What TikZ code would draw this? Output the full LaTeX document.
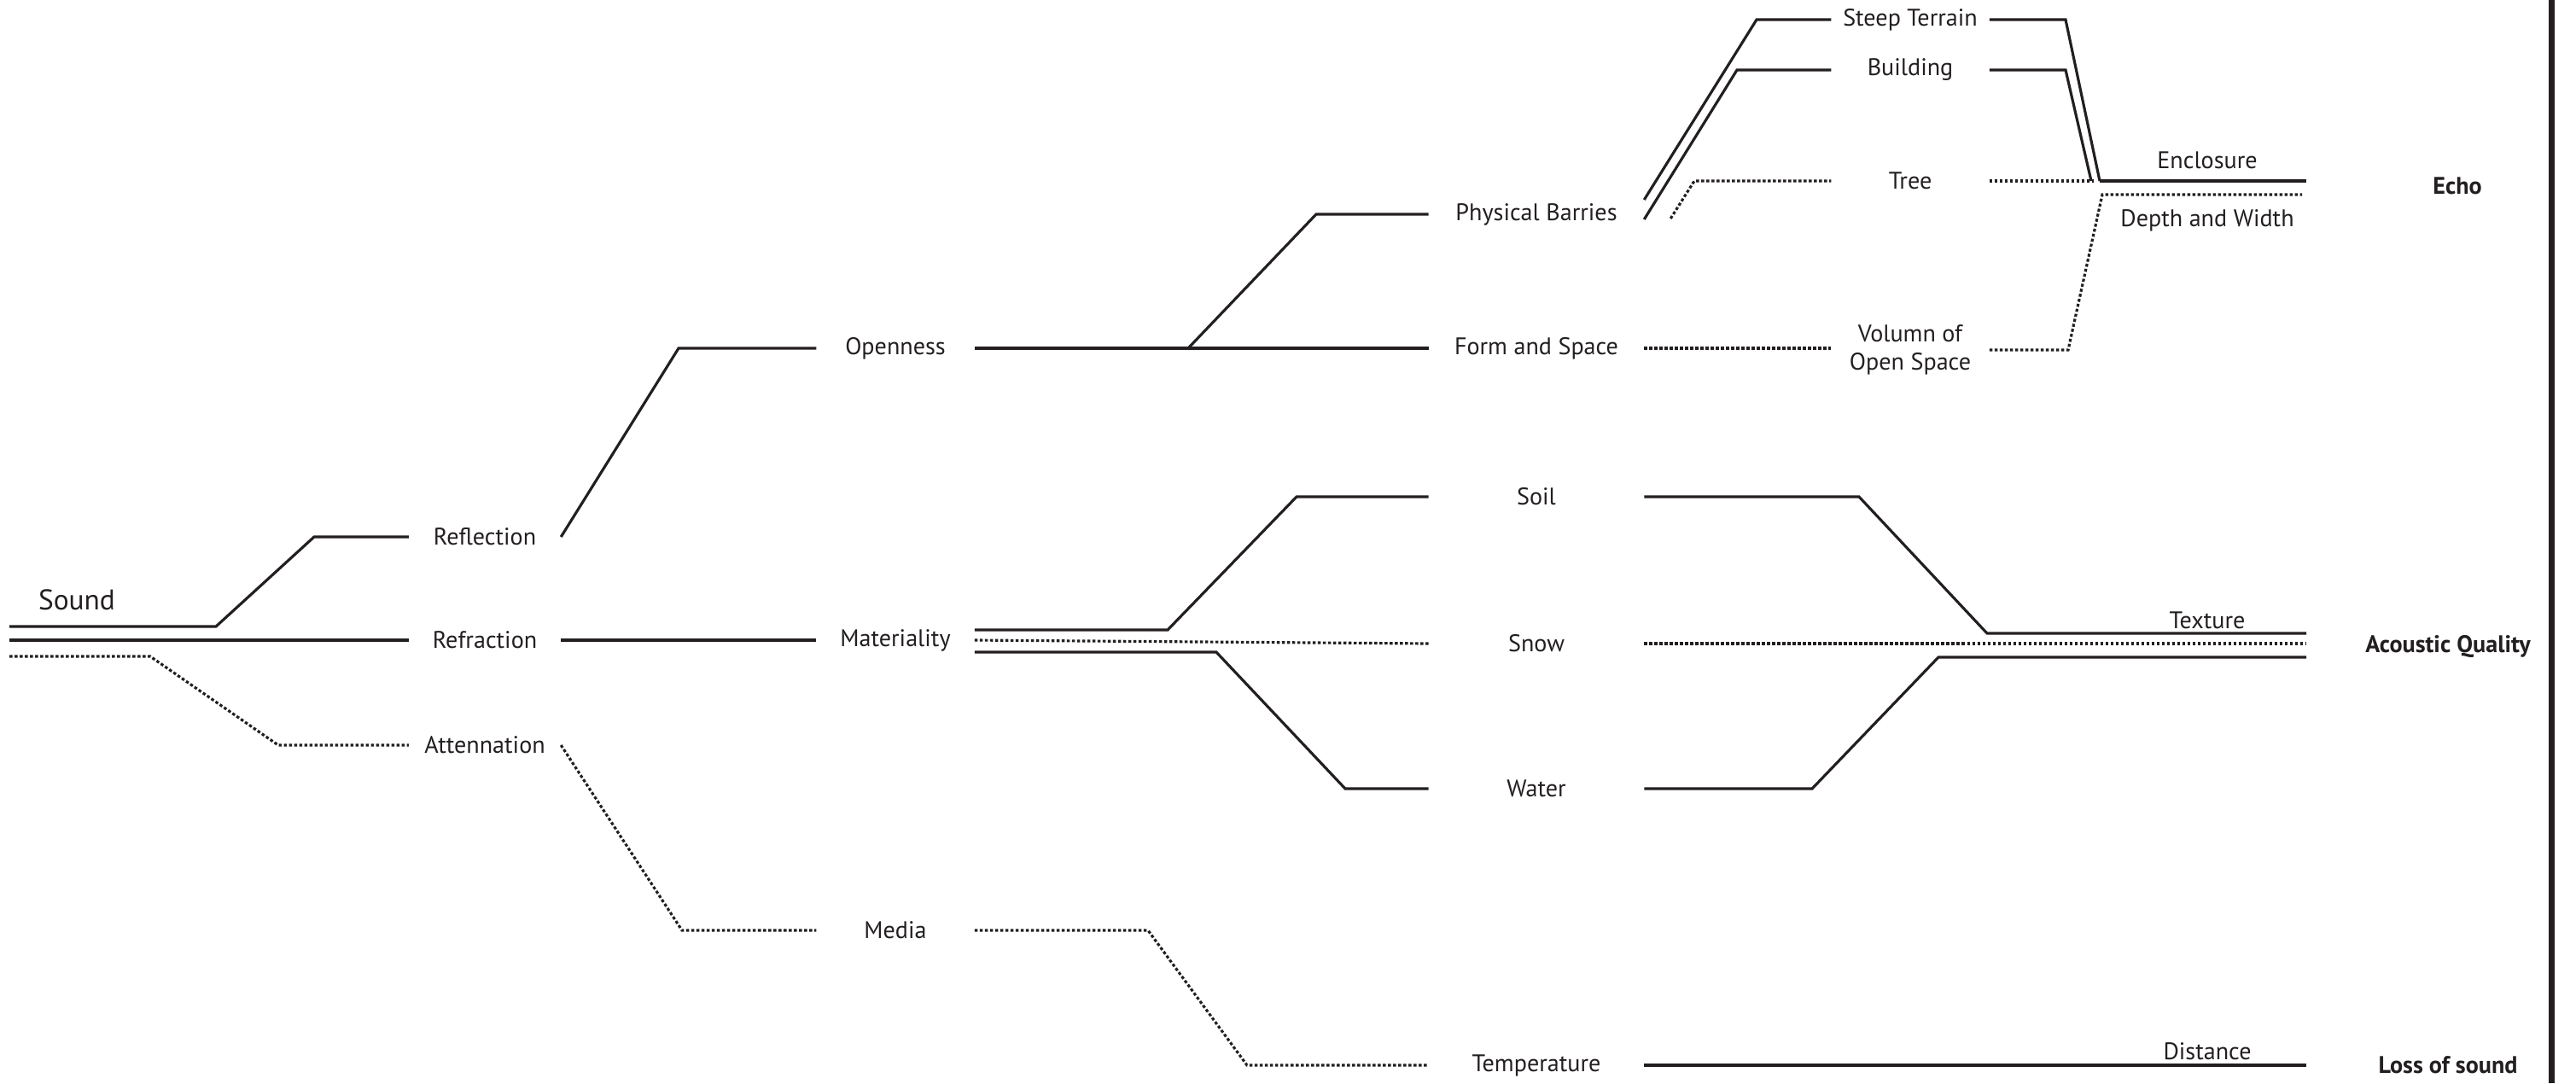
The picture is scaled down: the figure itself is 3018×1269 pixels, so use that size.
\documentclass[tikz,border=0pt]{standalone}
\usepackage{fontspec}
\setmainfont{PT Sans}
\usetikzlibrary{calc}
\definecolor{ink}{HTML}{231F20}

\begin{document}
\begin{tikzpicture}[x=0.01cm, y=-0.01cm,
  lbl/.style={font=\fontsize{8}{9.5}\selectfont, text=ink, inner sep=0pt,
              align=center, minimum width=#1},
  lbl/.default=0cm,
  head/.style={font=\fontsize{8}{9.5}\selectfont\bfseries, text=ink, inner sep=0pt},
  wire/.style={draw=ink, line width=0.9pt},
  dots/.style={wire, dash pattern=on 0.035cm off 0.025cm}]
  \useasboundingbox (0,0) rectangle (3018,1269);

  % labels
  \node[lbl, font=\fontsize{9.5}{11}\selectfont] (snd) at (90,703) {Sound};
  \node[lbl=1.77cm] (refl) at (568,629) {Reflection};
  \node[lbl=1.77cm] (refr) at (568,750) {Refraction};
  \node[lbl=1.77cm] (att) at (568,873) {Attennation};
  \node[lbl=1.84cm] (open) at (1049,408) {Openness};
  \node[lbl=1.84cm] (mat) at (1049,750) {Materiality};
  \node[lbl=1.84cm] (media) at (1049,1090) {Media};
  \node[lbl=2.51cm] (phys) at (1800,251) {Physical Barries};
  \node[lbl=2.51cm] (form) at (1800,408) {Form and Space};
  \node[lbl=2.51cm] (soil) at (1800,582) {Soil};
  \node[lbl=2.51cm] (snow) at (1800,754) {Snow};
  \node[lbl=2.51cm] (water) at (1800,924) {Water};
  \node[lbl=2.51cm] (temp) at (1800,1248) {Temperature};
  \node[lbl=1.84cm] (steep) at (2238,23) {Steep Terrain};
  \node[lbl=1.84cm] (build) at (2238,82) {Building};
  \node[lbl=1.84cm] (tree) at (2238,212) {Tree};
  \node[lbl=1.84cm] (vol) at (2238,410) {Volumn of\\Open Space};
  \node[lbl] (encl) at (2586,188) {Enclosure};
  \node[lbl] (depth) at (2586,258) {Depth and Width};
  \node[lbl] (tex) at (2586,727) {Texture};
  \node[lbl] (dist) at (2586,1232) {Distance};
  \node[head] (echo) at (2879,218) {Echo};
  \node[head] (aq) at (2868,757) {Acoustic Quality};
  \node[head] (loss) at (2868,1248) {Loss of sound};

  \coordinate (s1) at (11,734);
  \coordinate (s2) at (11,750);
  \coordinate (s3) at (11,769);
  \coordinate (ob) at (1392,408);
  \coordinate (ej) at (2460,212);
  \coordinate (e1) at (2702,212);
  \coordinate (e2) at (2697,228);
  \coordinate (q1) at (2702,742);
  \coordinate (q2) at (2702,754);
  \coordinate (q3) at (2702,770);
  \coordinate (l1) at (2702,1248);

  % sound
  \draw[wire] (s1) -- (253,734) -- (368,629) -- (refl.west);
  \draw[wire] (s2) -- (refr.west);
  \draw[dots] (s3) -- (176,769) -- (326,873) -- (att.west);

  \draw[wire] (refl.east) -- (795,408) -- (open.west);
  \draw[wire] (refr.east) -- (mat.west);
  \draw[dots] (att.east) -- (799,1090) -- (media.west);

  \draw[wire] (open.east) -- (form.west);
  \draw[wire] (ob) -- (1542,251) -- (phys.west);
  \draw[wire] ($(mat.east)+(0,-12)$) -- (1368,738) -- (1519,582) -- (soil.west);
  \draw[dots] (mat.east) -- (snow.west);
  \draw[wire] ($(mat.east)+(0,14)$) -- (1425,764) -- (1576,924) -- (water.west);
  \draw[dots] (media.east) -- (1345,1090) -- (1461,1248) -- (temp.west);

  % echo
  \draw[wire] ($(phys.east)+(0,-17)$) -- (2058,23) -- (steep.west);
  \draw[wire] ($(phys.east)+(0,6)$) -- (2035,82) -- (build.west);
  \draw[dots] ($(phys.east)+(31,5)$) -- (1985,212) -- (tree.west);
  \draw[dots] (form.east) -- ($(vol.west)+(0,-2)$);
  \draw[wire] (steep.east) -- (2420,23) -- (ej);
  \draw[wire] (build.east) -- (2420,82) -- (2450,212);
  \draw[dots] (tree.east) -- (2453,212);
  \draw[wire] (ej) -- (e1);
  \draw[dots] (vol.east) -- (2423,410) -- (2463,228) -- (e2);

  % acoustic quality
  \draw[wire] (soil.east) -- (2178,582) -- (2328,742) -- (q1);
  \draw[dots] (snow.east) -- (q2);
  \draw[wire] (water.east) -- (2123,924) -- (2271,770) -- (q3);

  % loss of sound
  \draw[wire] (temp.east) -- (l1);

  \draw[draw=ink, line width=0.07cm] (2989,0) -- (2989,1269);
\end{tikzpicture}
\end{document}
